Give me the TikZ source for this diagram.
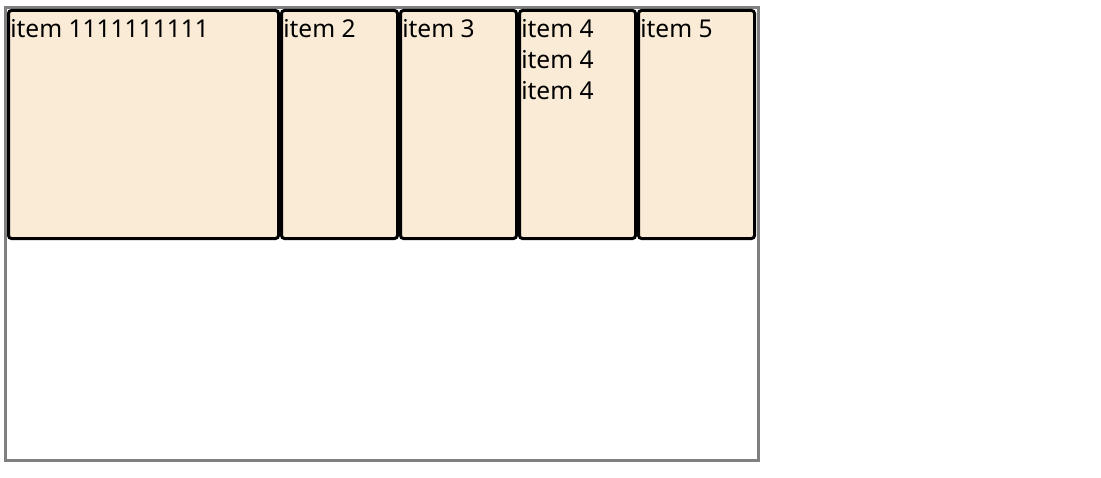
\documentclass[tikz,border=0pt]{standalone}
\usepackage{fontspec}
\setmainfont{Noto Sans}
\begin{document}
\begin{tikzpicture}[x=0.75pt,y=-0.75pt,
  box/.style={draw=black,line width=2.25pt,fill=boxfill,rounded corners=2.25pt},
  outer/.style={draw=outergray,line width=2.25pt},
  lbl/.style={anchor=base west,inner sep=0pt,font=\fontsize{18.4}{23}\selectfont}]
\definecolor{boxfill}{HTML}{FAEBD7}
\definecolor{outergray}{HTML}{808080}
\useasboundingbox (0,0) rectangle (1101,478);
\draw[outer] (5.5,7.5) rectangle (758.5,460.5);
\draw[box] (8.5,10.5) rectangle (278.5,238.5);
\draw[box] (281.5,10.5) rectangle (397.5,238.5);
\draw[box] (400.5,10.5) rectangle (516.5,238.5);
\draw[box] (519.5,10.5) rectangle (635.5,238.5);
\draw[box] (638.5,10.5) rectangle (754.5,238.5);
\node[lbl] (t1) at (10,37.5) {item 1111111111};
\node[lbl] (t2) at (283,37.5) {item 2};
\node[lbl] (t3) at (402,37.5) {item 3};
\node[lbl] (t4a) at (521,37.5) {item 4};
\node[lbl] (t4b) at (521,68.5) {item 4};
\node[lbl] (t4c) at (521,99.5) {item 4};
\node[lbl] (t5) at (640,37.5) {item 5};
\end{tikzpicture}
\end{document}
